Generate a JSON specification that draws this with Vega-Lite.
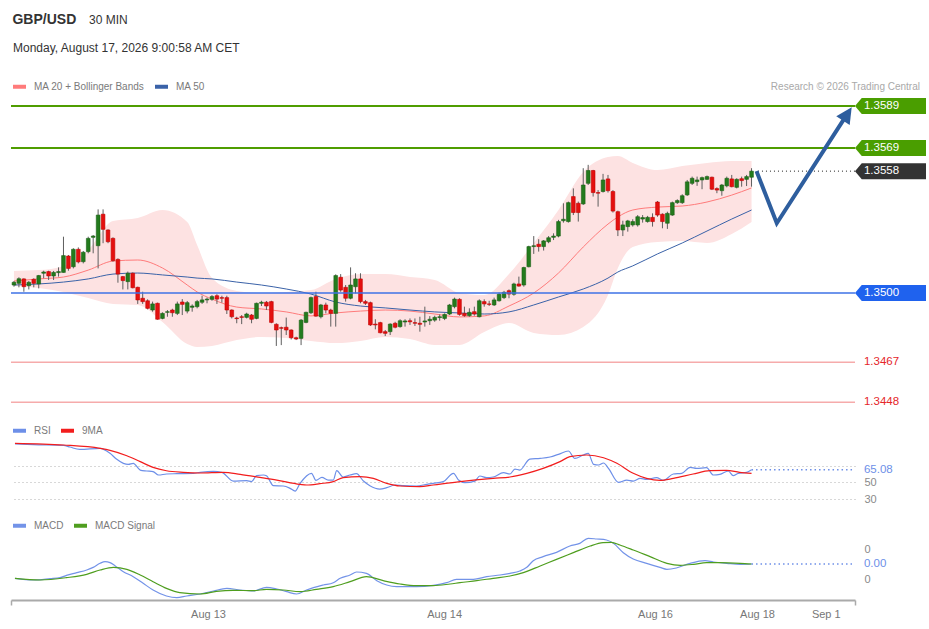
{
  "$schema": "https://vega.github.io/schema/vega-lite/v6.json",
  "usermeta": {"embedOptions": {"actions": false}},
  "width": 844,
  "height": 504,
  "autosize": {"type": "none"},
  "padding": {"left": 11, "top": 96, "right": 74, "bottom": 29},
  "background": "#ffffff",
  "datasets": {
    "candles": [
      {"i":0,"o":1.35038,"h":1.35057,"l":1.35030,"c":1.35051},
      {"i":1,"o":1.35046,"h":1.35075,"l":1.35027,"c":1.35068},
      {"i":2,"o":1.35067,"h":1.35070,"l":1.35006,"c":1.35030},
      {"i":3,"o":1.35035,"h":1.35057,"l":1.35017,"c":1.35051},
      {"i":4,"o":1.35065,"h":1.35070,"l":1.35027,"c":1.35046},
      {"i":5,"o":1.35043,"h":1.35086,"l":1.35022,"c":1.35083},
      {"i":6,"o":1.35094,"h":1.35106,"l":1.35070,"c":1.35100},
      {"i":7,"o":1.35102,"h":1.35106,"l":1.35062,"c":1.35081},
      {"i":8,"o":1.35081,"h":1.35105,"l":1.35062,"c":1.35098},
      {"i":9,"o":1.35097,"h":1.35122,"l":1.35078,"c":1.35102},
      {"i":10,"o":1.35098,"h":1.35268,"l":1.35097,"c":1.35178},
      {"i":11,"o":1.35176,"h":1.35181,"l":1.35106,"c":1.35117},
      {"i":12,"o":1.35125,"h":1.35213,"l":1.35117,"c":1.35208},
      {"i":13,"o":1.35208,"h":1.35217,"l":1.35141,"c":1.35148},
      {"i":14,"o":1.35149,"h":1.35200,"l":1.35141,"c":1.35194},
      {"i":15,"o":1.35197,"h":1.35268,"l":1.35189,"c":1.35260},
      {"i":16,"o":1.35265,"h":1.35276,"l":1.35189,"c":1.35271},
      {"i":17,"o":1.35225,"h":1.35398,"l":1.35117,"c":1.35371},
      {"i":18,"o":1.35375,"h":1.35398,"l":1.35237,"c":1.35303},
      {"i":19,"o":1.35300,"h":1.35303,"l":1.35237,"c":1.35244},
      {"i":20,"o":1.35260,"h":1.35265,"l":1.35149,"c":1.35154},
      {"i":21,"o":1.35160,"h":1.35165,"l":1.35049,"c":1.35090},
      {"i":22,"o":1.35078,"h":1.35081,"l":1.35017,"c":1.35059},
      {"i":23,"o":1.35054,"h":1.35102,"l":1.35017,"c":1.35094},
      {"i":24,"o":1.35094,"h":1.35098,"l":1.35022,"c":1.35025},
      {"i":25,"o":1.35027,"h":1.35030,"l":1.34948,"c":1.34967},
      {"i":26,"o":1.34975,"h":1.35006,"l":1.34948,"c":1.34959},
      {"i":27,"o":1.34963,"h":1.34970,"l":1.34922,"c":1.34927},
      {"i":28,"o":1.34919,"h":1.34959,"l":1.34911,"c":1.34948},
      {"i":29,"o":1.34951,"h":1.34954,"l":1.34873,"c":1.34875},
      {"i":30,"o":1.34879,"h":1.34908,"l":1.34875,"c":1.34903},
      {"i":31,"o":1.34908,"h":1.34919,"l":1.34887,"c":1.34911},
      {"i":32,"o":1.34919,"h":1.34925,"l":1.34887,"c":1.34906},
      {"i":33,"o":1.34903,"h":1.34959,"l":1.34895,"c":1.34948},
      {"i":34,"o":1.34957,"h":1.34971,"l":1.34895,"c":1.34946},
      {"i":35,"o":1.34914,"h":1.34962,"l":1.34903,"c":1.34954},
      {"i":36,"o":1.34932,"h":1.34946,"l":1.34911,"c":1.34938},
      {"i":37,"o":1.34935,"h":1.34967,"l":1.34927,"c":1.34959},
      {"i":38,"o":1.34956,"h":1.34987,"l":1.34948,"c":1.34967},
      {"i":39,"o":1.34967,"h":1.34978,"l":1.34951,"c":1.34971},
      {"i":40,"o":1.34970,"h":1.34990,"l":1.34963,"c":1.34983},
      {"i":41,"o":1.34987,"h":1.34994,"l":1.34948,"c":1.34971},
      {"i":42,"o":1.34978,"h":1.34987,"l":1.34954,"c":1.34975},
      {"i":43,"o":1.34978,"h":1.34987,"l":1.34900,"c":1.34919},
      {"i":44,"o":1.34919,"h":1.34922,"l":1.34879,"c":1.34887},
      {"i":45,"o":1.34881,"h":1.34887,"l":1.34856,"c":1.34878},
      {"i":46,"o":1.34887,"h":1.34895,"l":1.34852,"c":1.34884},
      {"i":47,"o":1.34884,"h":1.34906,"l":1.34879,"c":1.34900},
      {"i":48,"o":1.34895,"h":1.34900,"l":1.34856,"c":1.34875},
      {"i":49,"o":1.34879,"h":1.34954,"l":1.34875,"c":1.34951},
      {"i":50,"o":1.34951,"h":1.34963,"l":1.34938,"c":1.34956},
      {"i":51,"o":1.34956,"h":1.34962,"l":1.34919,"c":1.34938},
      {"i":52,"o":1.34959,"h":1.34963,"l":1.34856,"c":1.34860},
      {"i":53,"o":1.34851,"h":1.34856,"l":1.34748,"c":1.34824},
      {"i":54,"o":1.34835,"h":1.34840,"l":1.34752,"c":1.34832},
      {"i":55,"o":1.34837,"h":1.34883,"l":1.34800,"c":1.34824},
      {"i":56,"o":1.34824,"h":1.34827,"l":1.34779,"c":1.34787},
      {"i":57,"o":1.34787,"h":1.34792,"l":1.34776,"c":1.34781},
      {"i":58,"o":1.34784,"h":1.34876,"l":1.34752,"c":1.34871},
      {"i":59,"o":1.34860,"h":1.34911,"l":1.34856,"c":1.34908},
      {"i":60,"o":1.34906,"h":1.34983,"l":1.34900,"c":1.34978},
      {"i":61,"o":1.34983,"h":1.35006,"l":1.34887,"c":1.34890},
      {"i":62,"o":1.34887,"h":1.34948,"l":1.34879,"c":1.34943},
      {"i":63,"o":1.34943,"h":1.34954,"l":1.34903,"c":1.34919},
      {"i":64,"o":1.34919,"h":1.34925,"l":1.34840,"c":1.34903},
      {"i":65,"o":1.34903,"h":1.35089,"l":1.34840,"c":1.35083},
      {"i":66,"o":1.35075,"h":1.35090,"l":1.35006,"c":1.35014},
      {"i":67,"o":1.35027,"h":1.35038,"l":1.34959,"c":1.34975},
      {"i":68,"o":1.34975,"h":1.35122,"l":1.34970,"c":1.35038},
      {"i":69,"o":1.35030,"h":1.35094,"l":1.34998,"c":1.35067},
      {"i":70,"o":1.35067,"h":1.35094,"l":1.34951,"c":1.34959},
      {"i":71,"o":1.34959,"h":1.34967,"l":1.34943,"c":1.34951},
      {"i":72,"o":1.34954,"h":1.34959,"l":1.34843,"c":1.34848},
      {"i":73,"o":1.34852,"h":1.34875,"l":1.34827,"c":1.34848},
      {"i":74,"o":1.34859,"h":1.34863,"l":1.34808,"c":1.34811},
      {"i":75,"o":1.34816,"h":1.34824,"l":1.34795,"c":1.34808},
      {"i":76,"o":1.34816,"h":1.34856,"l":1.34800,"c":1.34852},
      {"i":77,"o":1.34856,"h":1.34863,"l":1.34832,"c":1.34837},
      {"i":78,"o":1.34840,"h":1.34875,"l":1.34835,"c":1.34868},
      {"i":79,"o":1.34862,"h":1.34875,"l":1.34840,"c":1.34867},
      {"i":80,"o":1.34868,"h":1.34879,"l":1.34848,"c":1.34863},
      {"i":81,"o":1.34859,"h":1.34879,"l":1.34843,"c":1.34856},
      {"i":82,"o":1.34856,"h":1.34887,"l":1.34816,"c":1.34851},
      {"i":83,"o":1.34862,"h":1.34935,"l":1.34840,"c":1.34867},
      {"i":84,"o":1.34868,"h":1.34890,"l":1.34848,"c":1.34875},
      {"i":85,"o":1.34871,"h":1.34892,"l":1.34863,"c":1.34884},
      {"i":86,"o":1.34883,"h":1.34898,"l":1.34868,"c":1.34887},
      {"i":87,"o":1.34879,"h":1.34903,"l":1.34871,"c":1.34898},
      {"i":88,"o":1.34900,"h":1.34948,"l":1.34895,"c":1.34943},
      {"i":89,"o":1.34935,"h":1.34978,"l":1.34927,"c":1.34971},
      {"i":90,"o":1.34970,"h":1.34975,"l":1.34892,"c":1.34898},
      {"i":91,"o":1.34903,"h":1.34935,"l":1.34887,"c":1.34892},
      {"i":92,"o":1.34892,"h":1.34927,"l":1.34887,"c":1.34908},
      {"i":93,"o":1.34911,"h":1.34935,"l":1.34892,"c":1.34900},
      {"i":94,"o":1.34887,"h":1.34970,"l":1.34884,"c":1.34963},
      {"i":95,"o":1.34959,"h":1.34970,"l":1.34935,"c":1.34948},
      {"i":96,"o":1.34948,"h":1.34963,"l":1.34938,"c":1.34946},
      {"i":97,"o":1.34943,"h":1.34978,"l":1.34938,"c":1.34967},
      {"i":98,"o":1.34963,"h":1.35002,"l":1.34959,"c":1.34994},
      {"i":99,"o":1.34978,"h":1.35010,"l":1.34971,"c":1.35003},
      {"i":100,"o":1.35011,"h":1.35017,"l":1.34975,"c":1.34995},
      {"i":101,"o":1.34994,"h":1.35049,"l":1.34987,"c":1.35043},
      {"i":102,"o":1.35043,"h":1.35078,"l":1.35030,"c":1.35033},
      {"i":103,"o":1.35038,"h":1.35125,"l":1.35030,"c":1.35121},
      {"i":104,"o":1.35125,"h":1.35225,"l":1.35122,"c":1.35221},
      {"i":105,"o":1.35221,"h":1.35271,"l":1.35186,"c":1.35225},
      {"i":106,"o":1.35232,"h":1.35256,"l":1.35197,"c":1.35221},
      {"i":107,"o":1.35221,"h":1.35252,"l":1.35202,"c":1.35248},
      {"i":108,"o":1.35244,"h":1.35271,"l":1.35237,"c":1.35263},
      {"i":109,"o":1.35265,"h":1.35284,"l":1.35252,"c":1.35271},
      {"i":110,"o":1.35271,"h":1.35348,"l":1.35265,"c":1.35340},
      {"i":111,"o":1.35344,"h":1.35427,"l":1.35335,"c":1.35351},
      {"i":112,"o":1.35340,"h":1.35435,"l":1.35335,"c":1.35430},
      {"i":113,"o":1.35459,"h":1.35498,"l":1.35371,"c":1.35383},
      {"i":114,"o":1.35427,"h":1.35435,"l":1.35340,"c":1.35383},
      {"i":115,"o":1.35424,"h":1.35594,"l":1.35419,"c":1.35514},
      {"i":116,"o":1.35522,"h":1.35610,"l":1.35514,"c":1.35583},
      {"i":117,"o":1.35583,"h":1.35586,"l":1.35459,"c":1.35478},
      {"i":118,"o":1.35478,"h":1.35490,"l":1.35411,"c":1.35475},
      {"i":119,"o":1.35483,"h":1.35567,"l":1.35478,"c":1.35538},
      {"i":120,"o":1.35543,"h":1.35562,"l":1.35478,"c":1.35487},
      {"i":121,"o":1.35483,"h":1.35490,"l":1.35383,"c":1.35390},
      {"i":122,"o":1.35387,"h":1.35392,"l":1.35271,"c":1.35300},
      {"i":123,"o":1.35300,"h":1.35344,"l":1.35271,"c":1.35324},
      {"i":124,"o":1.35316,"h":1.35348,"l":1.35292,"c":1.35343},
      {"i":125,"o":1.35324,"h":1.35351,"l":1.35316,"c":1.35340},
      {"i":126,"o":1.35324,"h":1.35371,"l":1.35316,"c":1.35363},
      {"i":127,"o":1.35352,"h":1.35371,"l":1.35335,"c":1.35359},
      {"i":128,"o":1.35340,"h":1.35367,"l":1.35335,"c":1.35360},
      {"i":129,"o":1.35360,"h":1.35379,"l":1.35316,"c":1.35340},
      {"i":130,"o":1.35433,"h":1.35438,"l":1.35363,"c":1.35371},
      {"i":131,"o":1.35375,"h":1.35379,"l":1.35308,"c":1.35340},
      {"i":132,"o":1.35332,"h":1.35387,"l":1.35305,"c":1.35379},
      {"i":133,"o":1.35371,"h":1.35435,"l":1.35367,"c":1.35430},
      {"i":134,"o":1.35430,"h":1.35446,"l":1.35424,"c":1.35440},
      {"i":135,"o":1.35430,"h":1.35470,"l":1.35424,"c":1.35463},
      {"i":136,"o":1.35467,"h":1.35538,"l":1.35462,"c":1.35529},
      {"i":137,"o":1.35522,"h":1.35554,"l":1.35514,"c":1.35546},
      {"i":138,"o":1.35530,"h":1.35554,"l":1.35510,"c":1.35538},
      {"i":139,"o":1.35538,"h":1.35554,"l":1.35494,"c":1.35549},
      {"i":140,"o":1.35541,"h":1.35559,"l":1.35538,"c":1.35554},
      {"i":141,"o":1.35551,"h":1.35554,"l":1.35490,"c":1.35494},
      {"i":142,"o":1.35497,"h":1.35503,"l":1.35475,"c":1.35490},
      {"i":143,"o":1.35487,"h":1.35519,"l":1.35463,"c":1.35514},
      {"i":144,"o":1.35510,"h":1.35554,"l":1.35503,"c":1.35546},
      {"i":145,"o":1.35543,"h":1.35562,"l":1.35503,"c":1.35506},
      {"i":146,"o":1.35503,"h":1.35546,"l":1.35498,"c":1.35541},
      {"i":147,"o":1.35544,"h":1.35554,"l":1.35506,"c":1.35535},
      {"i":148,"o":1.35541,"h":1.35562,"l":1.35509,"c":1.35554},
      {"i":149,"o":1.35551,"h":1.35594,"l":1.35506,"c":1.35580}
    ],
    "bands": [
      {"i":0,"up":1.35105,"lo":1.35033,"m20":1.35057,"m50":1.35038},
      {"i":5,"up":1.35109,"lo":1.35024,"m20":1.35067,"m50":1.35043},
      {"i":10,"up":1.35129,"lo":1.35005,"m20":1.35076,"m50":1.35052},
      {"i":15,"up":1.35205,"lo":1.34976,"m20":1.35109,"m50":1.35067},
      {"i":20,"up":1.35343,"lo":1.34948,"m20":1.35152,"m50":1.35090},
      {"i":25,"up":1.35357,"lo":1.34943,"m20":1.35157,"m50":1.35095},
      {"i":30,"up":1.35395,"lo":1.34862,"m20":1.35119,"m50":1.35086},
      {"i":35,"up":1.35338,"lo":1.34757,"m20":1.35038,"m50":1.35076},
      {"i":37,"up":1.35228,"lo":1.34743,"m20":1.35005,"m50":1.35071},
      {"i":40,"up":1.35071,"lo":1.34748,"m20":1.34971,"m50":1.35067},
      {"i":45,"up":1.35010,"lo":1.34776,"m20":1.34933,"m50":1.35052},
      {"i":50,"up":1.35000,"lo":1.34791,"m20":1.34924,"m50":1.35038},
      {"i":55,"up":1.35005,"lo":1.34786,"m20":1.34910,"m50":1.35019},
      {"i":60,"up":1.35014,"lo":1.34772,"m20":1.34891,"m50":1.34995},
      {"i":65,"up":1.35067,"lo":1.34762,"m20":1.34905,"m50":1.34957},
      {"i":70,"up":1.35090,"lo":1.34772,"m20":1.34914,"m50":1.34938},
      {"i":75,"up":1.35090,"lo":1.34791,"m20":1.34919,"m50":1.34929},
      {"i":80,"up":1.35076,"lo":1.34781,"m20":1.34914,"m50":1.34919},
      {"i":85,"up":1.35062,"lo":1.34753,"m20":1.34900,"m50":1.34910},
      {"i":90,"up":1.35000,"lo":1.34753,"m20":1.34886,"m50":1.34905},
      {"i":95,"up":1.34990,"lo":1.34814,"m20":1.34891,"m50":1.34900},
      {"i":100,"up":1.35090,"lo":1.34857,"m20":1.34938,"m50":1.34910},
      {"i":105,"up":1.35238,"lo":1.34810,"m20":1.35000,"m50":1.34943},
      {"i":110,"up":1.35395,"lo":1.34800,"m20":1.35095,"m50":1.34981},
      {"i":115,"up":1.35576,"lo":1.34838,"m20":1.35219,"m50":1.35019},
      {"i":120,"up":1.35647,"lo":1.34990,"m20":1.35328,"m50":1.35071},
      {"i":122,"up":1.35652,"lo":1.35119,"m20":1.35362,"m50":1.35100},
      {"i":125,"up":1.35619,"lo":1.35219,"m20":1.35395,"m50":1.35129},
      {"i":130,"up":1.35585,"lo":1.35243,"m20":1.35409,"m50":1.35186},
      {"i":135,"up":1.35604,"lo":1.35247,"m20":1.35414,"m50":1.35238},
      {"i":140,"up":1.35619,"lo":1.35238,"m20":1.35433,"m50":1.35295},
      {"i":145,"up":1.35628,"lo":1.35281,"m20":1.35466,"m50":1.35352},
      {"i":149,"up":1.35628,"lo":1.35338,"m20":1.35500,"m50":1.35395}
    ],
    "levels": [
      {"price":1.3589,"kind":"resistance"},
      {"price":1.3569,"kind":"resistance"},
      {"price":1.3558,"kind":"last"},
      {"price":1.3500,"kind":"pivot"},
      {"price":1.3467,"kind":"support"},
      {"price":1.3448,"kind":"support"}
    ],
    "forecast": [
      {"i":150.0,"p":1.3558},
      {"i":154.1,"p":1.35332},
      {"i":168.06,"p":1.35842}
    ],
    "rsi": [
      {"i":0.2,"series":"RSI","v":95.6},{"i":3.9,"series":"RSI","v":94.8},{"i":10,"series":"RSI","v":94.0},
      {"i":11.3,"series":"RSI","v":92.0},{"i":13.3,"series":"RSI","v":89.2},{"i":17.4,"series":"RSI","v":90.4},
      {"i":19.4,"series":"RSI","v":84.5},{"i":20.7,"series":"RSI","v":77.7},{"i":22.1,"series":"RSI","v":72.6},
      {"i":23.1,"series":"RSI","v":71.4},{"i":24.1,"series":"RSI","v":72.6},{"i":25.5,"series":"RSI","v":64.6},
      {"i":26.8,"series":"RSI","v":63.5},{"i":28.1,"series":"RSI","v":62.7},{"i":29.2,"series":"RSI","v":58.7},
      {"i":30.8,"series":"RSI","v":59.9},{"i":32.9,"series":"RSI","v":60.3},{"i":36.2,"series":"RSI","v":60.7},
      {"i":37.6,"series":"RSI","v":61.9},{"i":40.3,"series":"RSI","v":63.1},{"i":42,"series":"RSI","v":61.9},
      {"i":44.3,"series":"RSI","v":51.5},{"i":47,"series":"RSI","v":51.9},{"i":48,"series":"RSI","v":50.8},
      {"i":49,"series":"RSI","v":57.9},{"i":50.4,"series":"RSI","v":58.7},{"i":51,"series":"RSI","v":57.9},
      {"i":52.4,"series":"RSI","v":46.0},{"i":54.4,"series":"RSI","v":45.6},{"i":55.8,"series":"RSI","v":42.8},
      {"i":56.8,"series":"RSI","v":39.6},{"i":57.8,"series":"RSI","v":48.8},{"i":60.1,"series":"RSI","v":60.7},
      {"i":61,"series":"RSI","v":52.3},{"i":62.2,"series":"RSI","v":55.9},{"i":63.5,"series":"RSI","v":52.7},
      {"i":64.5,"series":"RSI","v":52.7},{"i":65.2,"series":"RSI","v":63.8},{"i":66.5,"series":"RSI","v":56.3},
      {"i":67.9,"series":"RSI","v":58.7},{"i":69.2,"series":"RSI","v":60.3},{"i":70.6,"series":"RSI","v":51.5},
      {"i":71.9,"series":"RSI","v":46.0},{"i":73.9,"series":"RSI","v":42.0},{"i":75.3,"series":"RSI","v":43.6},
      {"i":77,"series":"RSI","v":46.8},{"i":78.7,"series":"RSI","v":46.0},{"i":81.3,"series":"RSI","v":45.6},
      {"i":83.4,"series":"RSI","v":47.6},{"i":84.7,"series":"RSI","v":48.8},{"i":86.7,"series":"RSI","v":50.8},
      {"i":88.8,"series":"RSI","v":60.7},{"i":89.8,"series":"RSI","v":52.7},{"i":91.1,"series":"RSI","v":49.6},
      {"i":93.1,"series":"RSI","v":51.5},{"i":94.1,"series":"RSI","v":57.5},{"i":95.5,"series":"RSI","v":55.5},
      {"i":96.8,"series":"RSI","v":56.3},{"i":98.9,"series":"RSI","v":61.5},{"i":100.2,"series":"RSI","v":59.9},
      {"i":101.2,"series":"RSI","v":65.8},{"i":102.2,"series":"RSI","v":64.6},{"i":104.2,"series":"RSI","v":77.7},
      {"i":106.3,"series":"RSI","v":78.5},{"i":108.3,"series":"RSI","v":80.1},{"i":110,"series":"RSI","v":83.3},
      {"i":112,"series":"RSI","v":87.3},{"i":113.3,"series":"RSI","v":78.5},{"i":115,"series":"RSI","v":82.5},
      {"i":116,"series":"RSI","v":84.5},{"i":117.1,"series":"RSI","v":71.4},{"i":118.1,"series":"RSI","v":70.6},
      {"i":119.1,"series":"RSI","v":73.0},{"i":120.1,"series":"RSI","v":66.6},{"i":122.1,"series":"RSI","v":50.0},
      {"i":123.8,"series":"RSI","v":52.7},{"i":125.1,"series":"RSI","v":51.5},{"i":126.5,"series":"RSI","v":54.7},
      {"i":127.8,"series":"RSI","v":53.5},{"i":129.8,"series":"RSI","v":55.5},{"i":131.2,"series":"RSI","v":52.3},
      {"i":133.2,"series":"RSI","v":59.9},{"i":134.9,"series":"RSI","v":60.7},{"i":136.6,"series":"RSI","v":67.8},
      {"i":137.9,"series":"RSI","v":66.6},{"i":139.9,"series":"RSI","v":67.4},{"i":141.3,"series":"RSI","v":58.7},
      {"i":142.6,"series":"RSI","v":59.5},{"i":144.3,"series":"RSI","v":63.5},{"i":145.3,"series":"RSI","v":57.9},
      {"i":146.3,"series":"RSI","v":60.7},{"i":148,"series":"RSI","v":61.9},{"i":149,"series":"RSI","v":65.08},
      {"i":0.2,"series":"9MA","v":96.4},{"i":10,"series":"9MA","v":94.4},{"i":17.4,"series":"9MA","v":90.4},
      {"i":19.4,"series":"9MA","v":88.1},{"i":22.8,"series":"9MA","v":81.7},{"i":25.5,"series":"9MA","v":74.6},
      {"i":28.1,"series":"9MA","v":67.8},{"i":30.8,"series":"9MA","v":63.8},{"i":34.2,"series":"9MA","v":61.9},
      {"i":37.6,"series":"9MA","v":61.1},{"i":42.3,"series":"9MA","v":61.9},{"i":45.7,"series":"9MA","v":59.5},
      {"i":49.7,"series":"9MA","v":55.9},{"i":53.1,"series":"9MA","v":52.7},{"i":57.8,"series":"9MA","v":47.6},
      {"i":59.1,"series":"9MA","v":46.8},{"i":61.8,"series":"9MA","v":48.4},{"i":64.5,"series":"9MA","v":50.8},
      {"i":66.5,"series":"9MA","v":55.5},{"i":69.9,"series":"9MA","v":56.7},{"i":72.6,"series":"9MA","v":54.7},
      {"i":75.3,"series":"9MA","v":48.8},{"i":78,"series":"9MA","v":45.6},{"i":82,"series":"9MA","v":44.8},
      {"i":84.7,"series":"9MA","v":46.8},{"i":90.1,"series":"9MA","v":50.8},{"i":96.8,"series":"9MA","v":54.7},
      {"i":100.2,"series":"9MA","v":56.3},{"i":103.6,"series":"9MA","v":60.7},{"i":106.9,"series":"9MA","v":66.6},
      {"i":110.3,"series":"9MA","v":74.6},{"i":112.3,"series":"9MA","v":80.5},{"i":115.7,"series":"9MA","v":82.5},
      {"i":119.1,"series":"9MA","v":79.3},{"i":121.8,"series":"9MA","v":72.6},{"i":125.1,"series":"9MA","v":60.7},
      {"i":127.8,"series":"9MA","v":54.7},{"i":130.5,"series":"9MA","v":52.3},{"i":133.2,"series":"9MA","v":54.7},
      {"i":137.2,"series":"9MA","v":59.9},{"i":140.6,"series":"9MA","v":63.8},{"i":143.9,"series":"9MA","v":64.2},
      {"i":146.6,"series":"9MA","v":61.9},{"i":149,"series":"9MA","v":60.7}
    ],
    "macd": [
      {"i":0.2,"series":"MACD","v":-0.000444},{"i":3.9,"series":"MACD","v":-0.0005},{"i":7.3,"series":"MACD","v":-0.000456},
      {"i":9.3,"series":"MACD","v":-0.000422},{"i":10.6,"series":"MACD","v":-0.000344},{"i":12.7,"series":"MACD","v":-0.000256},
      {"i":14.7,"series":"MACD","v":-0.000167},{"i":16,"series":"MACD","v":-0.000078},{"i":17.4,"series":"MACD","v":0.000056},
      {"i":18.4,"series":"MACD","v":0.000111},{"i":19.4,"series":"MACD","v":0.000078},{"i":20.4,"series":"MACD","v":-0.000022},
      {"i":22.1,"series":"MACD","v":-0.000222},{"i":24.1,"series":"MACD","v":-0.000389},{"i":26.1,"series":"MACD","v":-0.000611},
      {"i":28.1,"series":"MACD","v":-0.000833},{"i":30.8,"series":"MACD","v":-0.001033},{"i":32.9,"series":"MACD","v":-0.001089},
      {"i":34.9,"series":"MACD","v":-0.001033},{"i":37.6,"series":"MACD","v":-0.000967},{"i":40.3,"series":"MACD","v":-0.000867},
      {"i":43,"series":"MACD","v":-0.000778},{"i":45.7,"series":"MACD","v":-0.000833},{"i":48.4,"series":"MACD","v":-0.000867},
      {"i":51,"series":"MACD","v":-0.000744},{"i":53.1,"series":"MACD","v":-0.0008},{"i":55.1,"series":"MACD","v":-0.000889},
      {"i":57.1,"series":"MACD","v":-0.000967},{"i":59.1,"series":"MACD","v":-0.000833},{"i":60.5,"series":"MACD","v":-0.000756},
      {"i":62.5,"series":"MACD","v":-0.000667},{"i":64.5,"series":"MACD","v":-0.000589},{"i":65.9,"series":"MACD","v":-0.000444},
      {"i":67.9,"series":"MACD","v":-0.000333},{"i":69.2,"series":"MACD","v":-0.000233},{"i":71.2,"series":"MACD","v":-0.000278},
      {"i":73.3,"series":"MACD","v":-0.000522},{"i":75.3,"series":"MACD","v":-0.000667},{"i":77.3,"series":"MACD","v":-0.000722},
      {"i":81.3,"series":"MACD","v":-0.000722},{"i":84.7,"series":"MACD","v":-0.000678},{"i":87.4,"series":"MACD","v":-0.000589},
      {"i":89.4,"series":"MACD","v":-0.000478},{"i":92.8,"series":"MACD","v":-0.000478},{"i":95.5,"series":"MACD","v":-0.000389},
      {"i":98.2,"series":"MACD","v":-0.000333},{"i":100.2,"series":"MACD","v":-0.000278},{"i":102.2,"series":"MACD","v":-0.0002},
      {"i":103.6,"series":"MACD","v":-0.000078},{"i":104.9,"series":"MACD","v":0.000144},{"i":106.9,"series":"MACD","v":0.000278},
      {"i":109.6,"series":"MACD","v":0.000422},{"i":112.3,"series":"MACD","v":0.000633},{"i":114.3,"series":"MACD","v":0.000722},
      {"i":116,"series":"MACD","v":0.000889},{"i":117.7,"series":"MACD","v":0.000867},{"i":119.7,"series":"MACD","v":0.000833},
      {"i":121.1,"series":"MACD","v":0.000722},{"i":123.1,"series":"MACD","v":0.000411},{"i":125.1,"series":"MACD","v":0.0002},
      {"i":127.8,"series":"MACD","v":0.000056},{"i":130.5,"series":"MACD","v":-0.000078},{"i":131.9,"series":"MACD","v":-0.000144},
      {"i":133.8,"series":"MACD","v":-0.0001},{"i":136.6,"series":"MACD","v":0.000056},{"i":139.6,"series":"MACD","v":0.000144},
      {"i":141.3,"series":"MACD","v":0.0001},{"i":144,"series":"MACD","v":0.000056},{"i":146.7,"series":"MACD","v":0.000022},
      {"i":149,"series":"MACD","v":0.000033},
      {"i":0.2,"series":"MACD Signal","v":-0.000444},{"i":5.3,"series":"MACD Signal","v":-0.0005},{"i":10.6,"series":"MACD Signal","v":-0.000422},
      {"i":14.7,"series":"MACD Signal","v":-0.000311},{"i":17.4,"series":"MACD Signal","v":-0.000167},{"i":20.1,"series":"MACD Signal","v":-0.000078},
      {"i":22.8,"series":"MACD Signal","v":-0.000144},{"i":25.5,"series":"MACD Signal","v":-0.000333},{"i":28.1,"series":"MACD Signal","v":-0.000556},
      {"i":30.8,"series":"MACD Signal","v":-0.000778},{"i":33.5,"series":"MACD Signal","v":-0.000922},{"i":37.6,"series":"MACD Signal","v":-0.000967},
      {"i":40.9,"series":"MACD Signal","v":-0.000878},{"i":44.3,"series":"MACD Signal","v":-0.000844},{"i":48.4,"series":"MACD Signal","v":-0.000856},
      {"i":51,"series":"MACD Signal","v":-0.000811},{"i":54.4,"series":"MACD Signal","v":-0.000833},{"i":57.8,"series":"MACD Signal","v":-0.000889},
      {"i":61.1,"series":"MACD Signal","v":-0.000811},{"i":64.5,"series":"MACD Signal","v":-0.000722},{"i":67.9,"series":"MACD Signal","v":-0.000556},
      {"i":71.2,"series":"MACD Signal","v":-0.000389},{"i":74.6,"series":"MACD Signal","v":-0.000522},{"i":78,"series":"MACD Signal","v":-0.000633},
      {"i":81.3,"series":"MACD Signal","v":-0.000689},{"i":84.7,"series":"MACD Signal","v":-0.000689},{"i":88.1,"series":"MACD Signal","v":-0.000633},
      {"i":90.1,"series":"MACD Signal","v":-0.000589},{"i":93.5,"series":"MACD Signal","v":-0.000522},{"i":96.8,"series":"MACD Signal","v":-0.000444},
      {"i":100.2,"series":"MACD Signal","v":-0.000367},{"i":102.9,"series":"MACD Signal","v":-0.000256},{"i":106.3,"series":"MACD Signal","v":-0.000033},
      {"i":109.6,"series":"MACD Signal","v":0.000189},{"i":113,"series":"MACD Signal","v":0.000411},{"i":116.4,"series":"MACD Signal","v":0.000633},
      {"i":119,"series":"MACD Signal","v":0.000744},{"i":120.7,"series":"MACD Signal","v":0.000756},{"i":122.4,"series":"MACD Signal","v":0.000667},
      {"i":125.1,"series":"MACD Signal","v":0.0005},{"i":128.5,"series":"MACD Signal","v":0.000278},{"i":131.9,"series":"MACD Signal","v":0.000056},
      {"i":134.6,"series":"MACD Signal","v":-0.000011},{"i":137.3,"series":"MACD Signal","v":0.000022},{"i":139.9,"series":"MACD Signal","v":0.000078},
      {"i":142.6,"series":"MACD Signal","v":0.000078},{"i":146.7,"series":"MACD Signal","v":0.000056},{"i":149,"series":"MACD Signal","v":0.000033}
    ]
  },
  "layer": [
    {
      "layer": [
        {
          "data": {"name": "bands"},
          "mark": {"type": "area", "color": "#fde2e2", "interpolate": "monotone"},
          "encoding": {
            "x": {
              "field": "i", "type": "quantitative",
              "scale": {"domain": [-0.6, 169.9], "nice": false, "zero": false, "padding": 0},
              "axis": {
                "values": [-0.6, 39.2, 86.9, 129.5, 150.1, 164, 169.9],
                "labelExpr": "datum.value < 20 ? '' : datum.value < 60 ? 'Aug 13' : datum.value < 100 ? 'Aug 14' : datum.value < 140 ? 'Aug 16' : datum.value < 160 ? 'Aug 18' : datum.value < 169 ? 'Sep 1' : ''",
                "title": null, "grid": false,
                "domainColor": "#aaaaaa", "domainWidth": 2,
                "tickColor": "#aaaaaa", "tickWidth": 1.5, "tickSize": 5,
                "tickOpacity": {"condition": {"test": "datum.value < 0 || datum.value > 169", "value": 1}, "value": 0},
                "labelColor": "#777777", "labelFontSize": 11, "labelPadding": 3,
                "labelOverlap": false, "labelFlush": false, "labelBound": false
              }
            },
            "y": {"field": "lo", "type": "quantitative", "scale": {"domain": [1.3353879, 1.3593765], "nice": false, "zero": false, "padding": 0}, "axis": null},
            "y2": {"field": "up"}
          }
        },
        {
          "data": {"name": "bands"},
          "transform": [{"fold": ["m20", "m50"], "as": ["series", "v"]}],
          "mark": {"type": "line", "strokeWidth": 1, "interpolate": "monotone"},
          "encoding": {
            "x": {"field": "i", "type": "quantitative"},
            "y": {"field": "v", "type": "quantitative", "axis": null},
            "color": {
              "field": "series", "type": "nominal",
              "scale": {"domain": ["m20", "m50"], "range": ["#ff7b7b", "#3a62a8"]},
              "legend": {
                "orient": "none", "legendX": 0, "legendY": -18, "direction": "horizontal", "title": null,
                "labelExpr": "datum.value == 'm20' ? 'MA 20 + Bollinger Bands' : 'MA 50'",
                "symbolType": "stroke", "symbolStrokeWidth": 4, "symbolSize": 169,
                "labelFontSize": 10, "labelColor": "#7a7a7a", "labelOffset": 6, "columnPadding": 2, "padding": 0
              }
            }
          }
        },
        {
          "data": {"name": "levels"},
          "transform": [{"filter": "datum.kind == 'support'"}],
          "mark": {"type": "rule", "color": "#f6abab", "strokeWidth": 1.5},
          "encoding": {"y": {"field": "price", "type": "quantitative", "axis": null}}
        },
        {
          "data": {"name": "levels"},
          "transform": [{"filter": "datum.kind == 'resistance'"}],
          "mark": {"type": "rule", "color": "#4f9d00", "strokeWidth": 2},
          "encoding": {"y": {"field": "price", "type": "quantitative", "axis": null}}
        },
        {
          "data": {"name": "candles"},
          "mark": {"type": "rule", "color": "#5e5e5e", "strokeWidth": 1},
          "encoding": {
            "x": {"field": "i", "type": "quantitative"},
            "y": {"field": "l", "type": "quantitative", "axis": null},
            "y2": {"field": "h"}
          }
        },
        {
          "data": {"name": "candles"},
          "mark": {"type": "bar", "width": 3.7, "strokeWidth": 0.6},
          "encoding": {
            "x": {"field": "i", "type": "quantitative"},
            "y": {"field": "o", "type": "quantitative", "axis": null},
            "y2": {"field": "c"},
            "color": {"condition": {"test": "datum.c >= datum.o", "value": "#237b1d"}, "value": "#e4100f"},
            "stroke": {"condition": {"test": "datum.c >= datum.o", "value": "#1b6016"}, "value": "#c40000"}
          }
        },
        {
          "data": {"name": "levels"},
          "transform": [{"filter": "datum.kind == 'pivot'"}],
          "mark": {"type": "rule", "color": "#3e72e6", "strokeWidth": 1.5},
          "encoding": {"y": {"field": "price", "type": "quantitative", "axis": null}}
        },
        {
          "data": {"name": "levels"},
          "transform": [{"filter": "datum.kind == 'last'"}],
          "mark": {"type": "rule", "color": "#222222", "strokeWidth": 1, "strokeDash": [1, 3]},
          "encoding": {
            "x": {"datum": 150.3, "type": "quantitative"},
            "x2": {"datum": 169.9},
            "y": {"field": "price", "type": "quantitative", "axis": null}
          }
        },
        {
          "data": {"name": "forecast"},
          "mark": {"type": "line", "color": "#2e5e9e", "strokeWidth": 4, "strokeJoin": "miter", "strokeCap": "butt"},
          "encoding": {
            "x": {"field": "i", "type": "quantitative"},
            "y": {"field": "p", "type": "quantitative", "axis": null}
          }
        },
        {
          "data": {"name": "forecast"},
          "transform": [{"filter": "datum.i > 160"}],
          "mark": {"type": "point", "shape": "M0,-1L0.75,0.5L-0.75,0.5Z", "filled": true, "opacity": 1, "color": "#2e5e9e", "size": 455, "angle": 33, "strokeWidth": 0},
          "encoding": {
            "x": {"field": "i", "type": "quantitative"},
            "y": {"field": "p", "type": "quantitative", "axis": null}
          }
        },
        {
          "data": {"name": "levels"},
          "transform": [{"filter": "datum.kind != 'support'"}],
          "mark": {"type": "point", "shape": "M-1,0L-0.81,-0.225H1V0.225H-0.81Z", "filled": true, "opacity": 1, "size": 5041, "strokeWidth": 0},
          "encoding": {
            "x": {"datum": 177.07, "type": "quantitative"},
            "y": {"field": "price", "type": "quantitative", "axis": null},
            "fill": {"field": "kind", "type": "nominal", "scale": {"domain": ["resistance", "last", "pivot"], "range": ["#4a9e00", "#333333", "#1f62ee"]}, "legend": null}
          }
        },
        {
          "data": {"name": "levels"},
          "transform": [{"filter": "datum.kind != 'support'"}],
          "mark": {"type": "text", "align": "left", "baseline": "middle", "color": "#ffffff", "fontSize": 11.5},
          "encoding": {
            "x": {"datum": 171.7, "type": "quantitative"},
            "y": {"field": "price", "type": "quantitative", "axis": null},
            "text": {"field": "price", "type": "quantitative", "format": ".4f"}
          }
        },
        {
          "data": {"name": "levels"},
          "transform": [{"filter": "datum.kind == 'support'"}],
          "mark": {"type": "text", "align": "left", "baseline": "middle", "color": "#e5262a", "fontSize": 11.5},
          "encoding": {
            "x": {"datum": 171.7, "type": "quantitative"},
            "y": {"field": "price", "type": "quantitative", "axis": null},
            "text": {"field": "price", "type": "quantitative", "format": ".4f"}
          }
        },
        {
          "data": {"values": [{"t": "GBP/USD"}]},
          "mark": {"type": "text", "align": "left", "baseline": "alphabetic", "color": "#333333", "fontSize": 14, "fontWeight": "bold"},
          "encoding": {
            "x": {"datum": -0.3, "type": "quantitative"},
            "y": {"datum": 1.36278, "type": "quantitative", "axis": null},
            "text": {"field": "t"}
          }
        },
        {
          "data": {"values": [{"t": "30 MIN"}]},
          "mark": {"type": "text", "align": "left", "baseline": "alphabetic", "color": "#333333", "fontSize": 12},
          "encoding": {
            "x": {"datum": 15.15, "type": "quantitative"},
            "y": {"datum": 1.36278, "type": "quantitative", "axis": null},
            "text": {"field": "t"}
          }
        },
        {
          "data": {"values": [{"t": "Monday, August 17, 2026 9:00:58 AM CET"}]},
          "mark": {"type": "text", "align": "left", "baseline": "alphabetic", "color": "#333333", "fontSize": 12},
          "encoding": {
            "x": {"datum": -0.2, "type": "quantitative"},
            "y": {"datum": 1.361447, "type": "quantitative", "axis": null},
            "text": {"field": "t"}
          }
        },
        {
          "data": {"values": [{"t": "Research © 2026 Trading Central"}]},
          "mark": {"type": "text", "align": "right", "baseline": "alphabetic", "color": "#a9a9a9", "fontSize": 10},
          "encoding": {
            "x": {"datum": 183.03, "type": "quantitative"},
            "y": {"datum": 1.359648, "type": "quantitative", "axis": null},
            "text": {"field": "t"}
          }
        }
      ]
    },
    {
      "layer": [
        {
          "data": {"name": "rsi"},
          "mark": {"type": "line", "strokeWidth": 1.2, "interpolate": "monotone"},
          "encoding": {
            "x": {"field": "i", "type": "quantitative"},
            "y": {
              "field": "v", "type": "quantitative",
              "scale": {"domain": [-90.1, 509.9], "nice": false, "zero": false},
              "axis": {
                "orient": "right", "values": [30, 50, 70], "title": null,
                "grid": true, "gridDash": [1, 3], "gridColor": "#b0b0b0",
                "domain": false, "ticks": false, "labelPadding": 9,
                "labelColor": "#8a8a8a", "labelFontSize": 11,
                "labelExpr": "datum.value == 70 ? '' : datum.label"
              }
            },
            "color": {
              "field": "series", "type": "nominal",
              "scale": {"domain": ["RSI", "9MA"], "range": ["#6d8fe8", "#f21d1d"]},
              "legend": {
                "orient": "none", "legendX": 0, "legendY": 326, "direction": "horizontal", "title": null,
                "symbolType": "stroke", "symbolStrokeWidth": 4, "symbolSize": 169,
                "labelFontSize": 10, "labelColor": "#7a7a7a", "labelOffset": 6, "columnPadding": 2, "padding": 0
              }
            }
          }
        },
        {
          "data": {"name": "rsi"},
          "transform": [{"filter": "datum.series == 'RSI' && datum.i == 149"}],
          "mark": {"type": "rule", "color": "#6d8fe8", "strokeWidth": 1.5, "strokeDash": [1.5, 3]},
          "encoding": {
            "x": {"field": "i", "type": "quantitative"},
            "x2": {"datum": 169.3},
            "y": {"field": "v", "type": "quantitative"}
          }
        },
        {
          "data": {"name": "rsi"},
          "transform": [{"filter": "datum.series == 'RSI' && datum.i == 149"}],
          "mark": {"type": "text", "align": "left", "baseline": "middle", "color": "#6d8fe8", "fontSize": 11.5},
          "encoding": {
            "x": {"datum": 171.7, "type": "quantitative"},
            "y": {"field": "v", "type": "quantitative"},
            "text": {"field": "v", "type": "quantitative", "format": ".2f"}
          }
        }
      ]
    },
    {
      "layer": [
        {
          "data": {"name": "macd"},
          "mark": {"type": "line", "strokeWidth": 1.2, "interpolate": "monotone"},
          "encoding": {
            "x": {"field": "i", "type": "quantitative"},
            "y": {
              "field": "v", "type": "quantitative",
              "scale": {"domain": [-0.0011667, 0.0156333], "nice": false, "zero": false},
              "axis": {
                "orient": "right", "values": [-0.0005, 0.0005], "title": null,
                "grid": false, "domain": false, "ticks": false, "labelPadding": 9,
                "labelColor": "#8a8a8a", "labelFontSize": 11, "labelExpr": "'0'"
              }
            },
            "color": {
              "field": "series", "type": "nominal",
              "scale": {"domain": ["MACD", "MACD Signal"], "range": ["#7393e8", "#4f9e1f"]},
              "legend": {
                "orient": "none", "legendX": 0, "legendY": 421, "direction": "horizontal", "title": null,
                "symbolType": "stroke", "symbolStrokeWidth": 4, "symbolSize": 169,
                "labelFontSize": 10, "labelColor": "#7a7a7a", "labelOffset": 6, "columnPadding": 2, "padding": 0
              }
            }
          }
        },
        {
          "data": {"name": "macd"},
          "transform": [{"filter": "datum.series == 'MACD' && datum.i == 149"}],
          "mark": {"type": "rule", "color": "#6d8fe8", "strokeWidth": 1.5, "strokeDash": [1.5, 3]},
          "encoding": {
            "x": {"field": "i", "type": "quantitative"},
            "x2": {"datum": 169.3},
            "y": {"field": "v", "type": "quantitative"}
          }
        },
        {
          "data": {"name": "macd"},
          "transform": [{"filter": "datum.series == 'MACD' && datum.i == 149"}],
          "mark": {"type": "text", "align": "left", "baseline": "middle", "color": "#6d8fe8", "fontSize": 11.5},
          "encoding": {
            "x": {"datum": 171.7, "type": "quantitative"},
            "y": {"field": "v", "type": "quantitative"},
            "text": {"field": "v", "type": "quantitative", "format": ".2f"}
          }
        }
      ]
    }
  ],
  "resolve": {"scale": {"y": "independent", "color": "independent"}},
  "config": {
    "font": "Liberation Sans",
    "view": {"stroke": null},
    "axis": {"grid": false}
  }
}
